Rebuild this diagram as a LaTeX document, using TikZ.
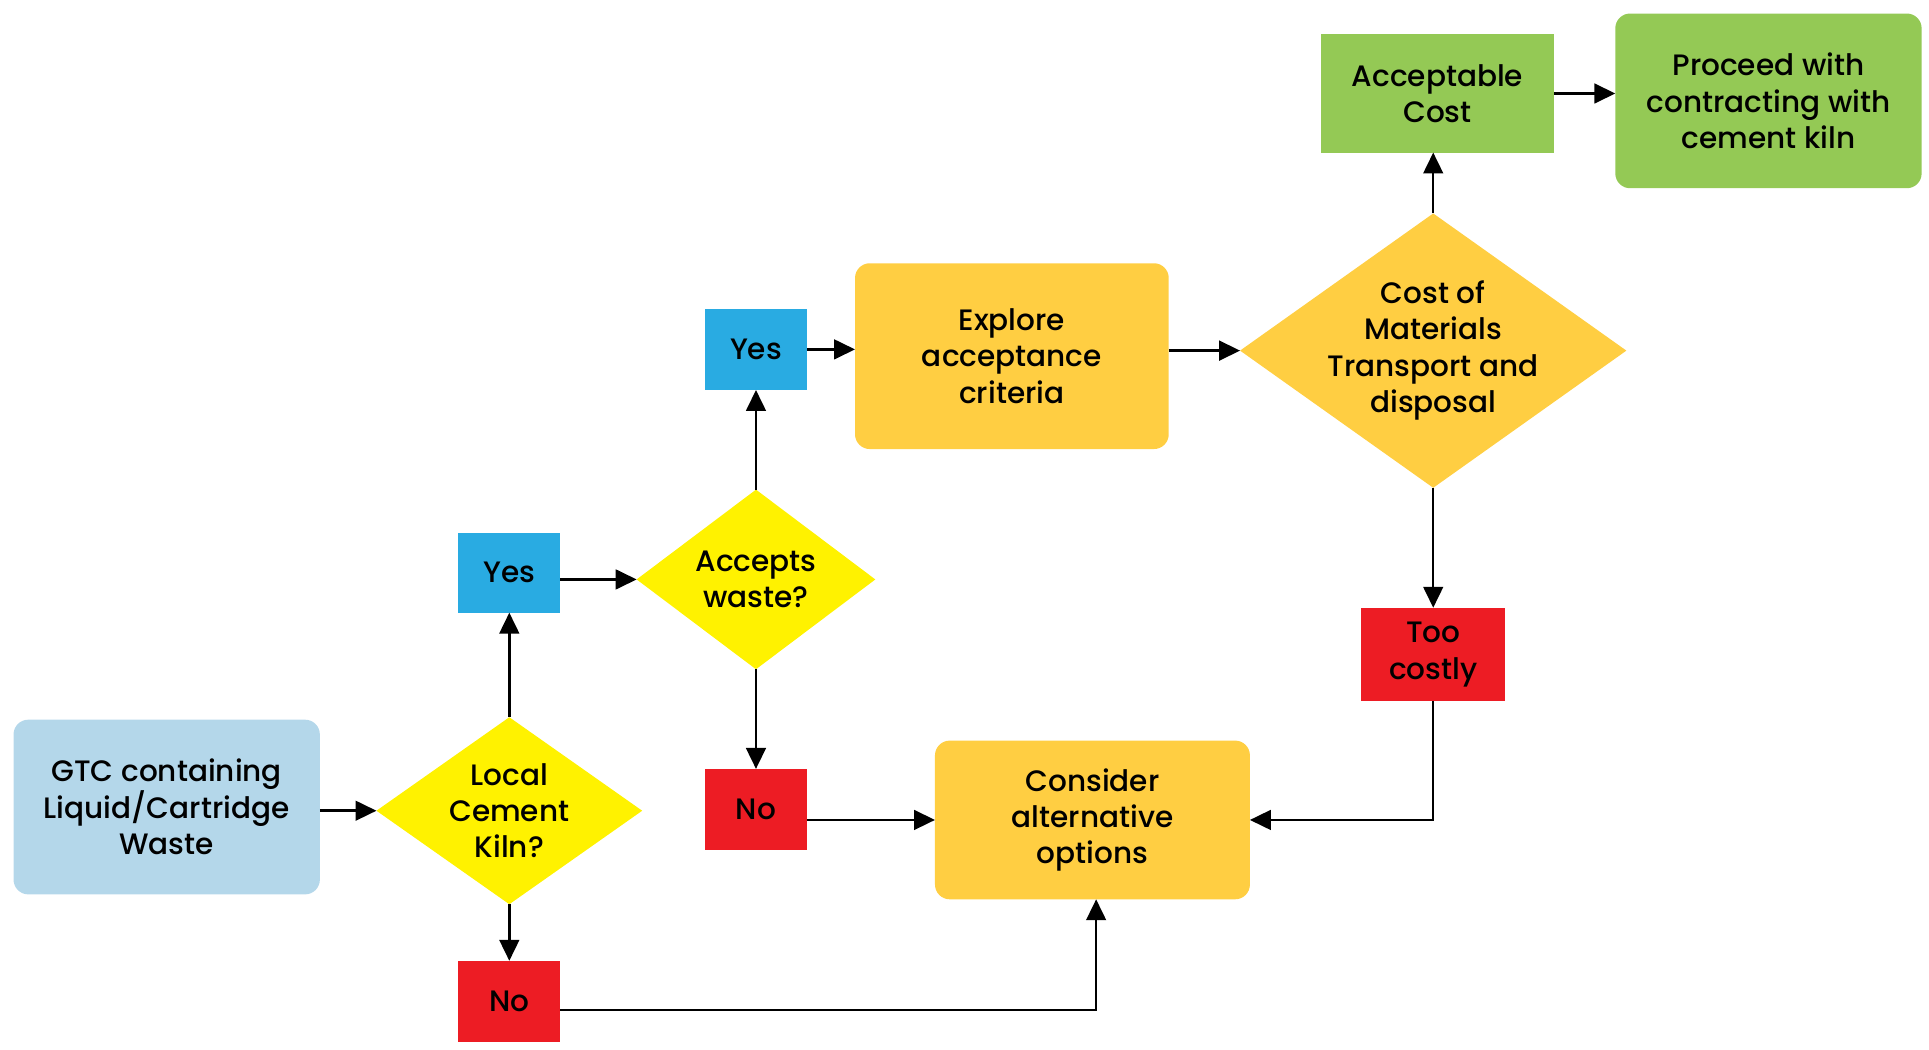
\documentclass[tikz,border=0pt]{standalone}
\usepackage{fontspec}
\setmainfont{Poppins}[UprightFont=* Medium]
\usetikzlibrary{shapes.geometric,arrows.meta}
\definecolor{cstart}{HTML}{B4D7EA}
\definecolor{cyel}{HTML}{FFF200}
\definecolor{corange}{HTML}{FFCE42}
\definecolor{cblue}{HTML}{29ABE2}
\definecolor{cred}{HTML}{ED1C24}
\definecolor{cgreen}{HTML}{94C955}
\begin{document}
\begin{tikzpicture}[x=1pt,y=-1pt,
  base/.style={font=\fontsize{24}{29.5}\selectfont, align=center, text=black, inner sep=0pt, outer sep=0pt},
  rbox/.style={base, rounded corners=12pt},
  sbox/.style={base},
  dia/.style={base, diamond, fill=cyel},
  arr/.style={-{Triangle[length=17pt,width=16pt]}, line width=2pt}]
\useasboundingbox (0,0) rectangle (1568,853);

% process boxes
\node[rbox, fill=cstart, minimum width=249pt, minimum height=142pt] (gtc) at (135.5,656) {GTC containing\\Liquid/Cartridge\\Waste};
\node[rbox, fill=corange, minimum width=255pt, minimum height=151pt] (explore) at (822.5,289.5) {Explore\\acceptance\\criteria};
\node[rbox, fill=corange, minimum width=256pt, minimum height=129pt] (consider) at (888,666.5) {Consider\\alternative\\options};
\node[rbox, fill=cgreen, minimum width=249pt, minimum height=142pt] (proceed) at (1437.5,82) {Proceed with\\contracting with\\cement kiln};
\node[sbox, fill=cgreen, minimum width=189pt, minimum height=96pt] (acceptable) at (1168.5,76) {Acceptable\\Cost};

% decisions
\node[dia, minimum width=216pt, minimum height=152pt,
  label={[base]center:Local\\Cement\\Kiln?}] (kiln) at (414,659) {};
\node[dia, minimum width=194pt, minimum height=146pt,
  label={[base]center:Accepts\\waste?}] (accepts) at (614.5,471) {};
\node[dia, fill=corange, minimum width=314pt, minimum height=223pt,
  label={[base]center:Cost of\\Materials\\Transport and\\disposal}] (cost) at (1165,285) {};

% answers
\node[sbox, fill=cblue, minimum width=83pt, minimum height=65pt] (yes1) at (414,465.5) {Yes};
\node[sbox, fill=cred, minimum width=83pt, minimum height=66pt] (no1) at (414,814) {No};
\node[sbox, fill=cblue, minimum width=83pt, minimum height=66pt] (yes2) at (614.5,284) {Yes};
\node[sbox, fill=cred, minimum width=83pt, minimum height=66pt] (no2) at (614.5,658) {No};
\node[sbox, fill=cred, minimum width=117pt, minimum height=76pt] (too) at (1165,532) {Too\\costly};

% connectors
\draw[arr] (gtc.east |- kiln.west) -- (kiln.west);
\draw[arr] (kiln.north) -- (yes1.south);
\draw[arr] (kiln.south) -- (no1.north);
\draw[arr] ([yshift=-7pt]no1.east) -| ([xshift=3pt]consider.south);
\draw[arr] (yes1.east |- accepts.west) -- (accepts.west);
\draw[arr] (accepts.north) -- (yes2.south);
\draw[arr] (accepts.south) -- (no2.north);
\draw[arr] (no2.east |- consider.west) -- (consider.west);
\draw[arr] (yes2.east) -- (yes2.east -| explore.west);
\draw[arr] (explore.east |- cost.west) -- (cost.west);
\draw[arr] (cost.north) -- (cost.north |- acceptable.south);
\draw[arr] (acceptable.east) -- (acceptable.east -| proceed.west);
\draw[arr] (cost.south) -- (too.north);
\draw[arr] (too.south) |- (consider.east);
\end{tikzpicture}
\end{document}
